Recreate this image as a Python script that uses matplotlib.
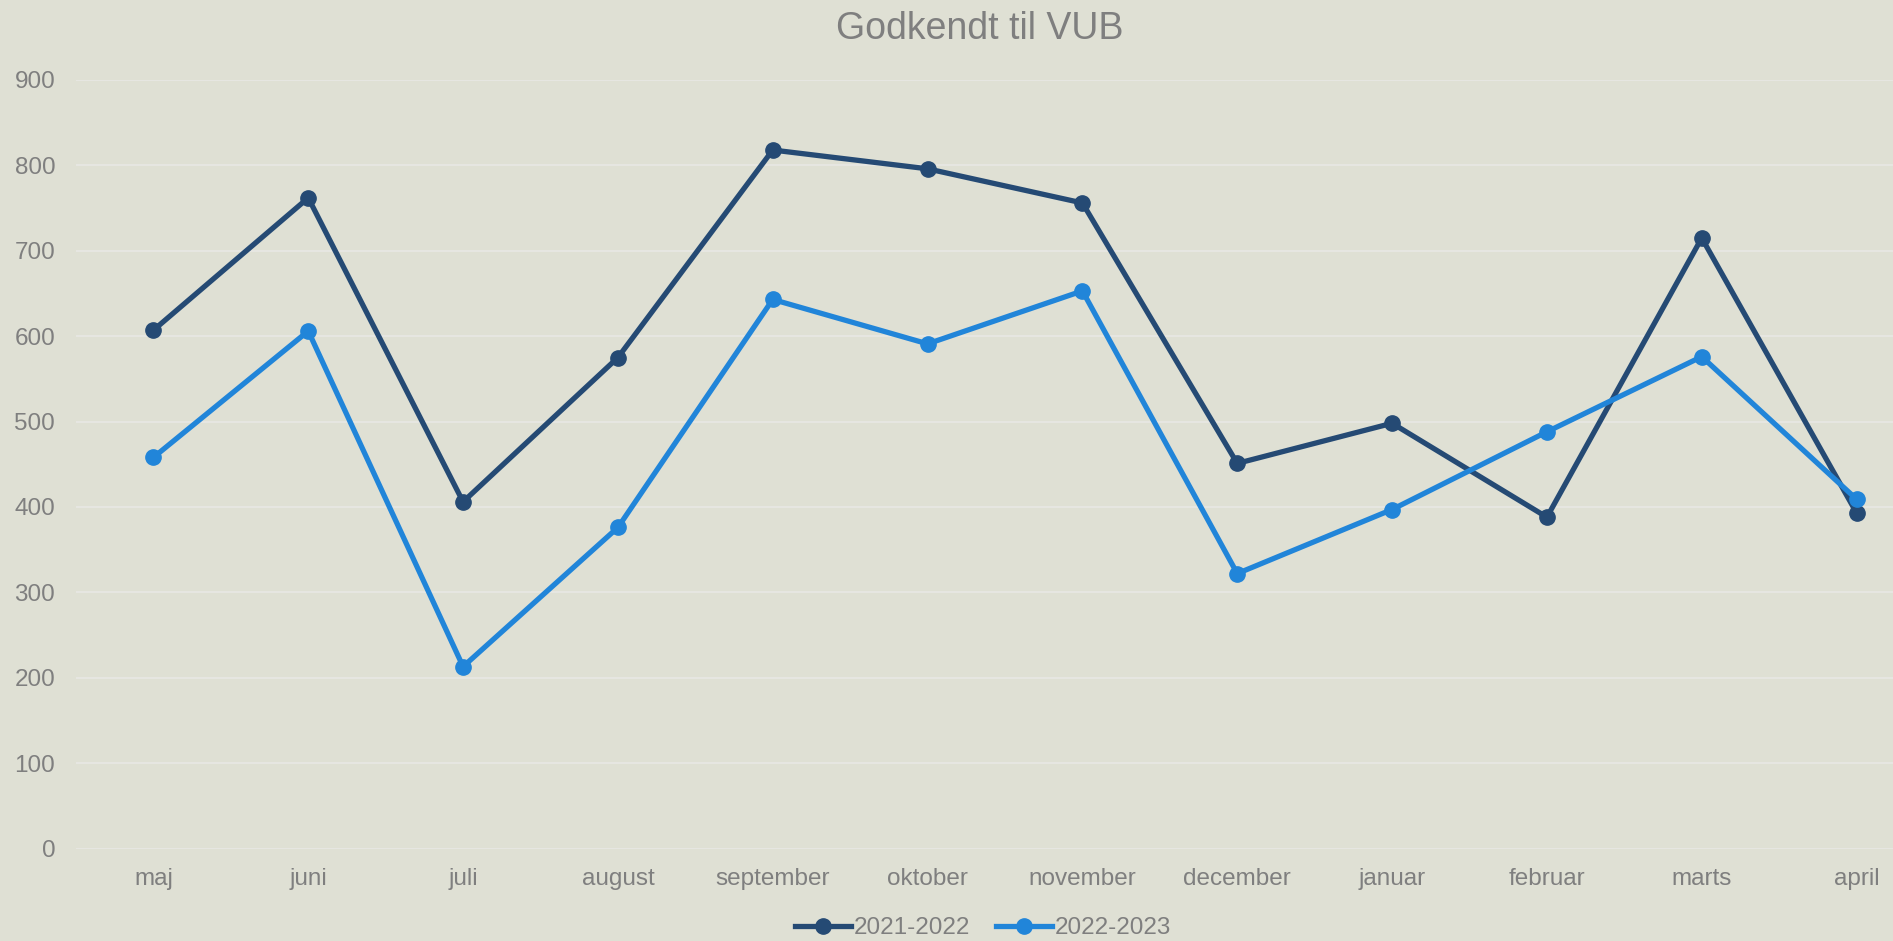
import matplotlib
matplotlib.use("Agg")
import matplotlib.pyplot as plt

months = ["maj", "juni", "juli", "august", "september", "oktober",
          "november", "december", "januar", "februar", "marts", "april"]
y2122 = [607, 762, 406, 575, 818, 796, 756, 451, 498, 388, 715, 393]
y2223 = [458, 606, 213, 376, 643, 591, 653, 322, 397, 488, 576, 409]
yticks = [0, 100, 200, 300, 400, 500, 600, 700, 800, 900]

bg = "#dfe0d4"
txt = "#7f7f7f"
dark = "#254a74"
light = "#2185d9"

plt.rcParams["font.family"] = ["Liberation Sans", "DejaVu Sans"]

W, H = 1893, 941
fig = plt.figure(figsize=(W / 100, H / 100), dpi=100, facecolor=bg)
ax = fig.add_axes([76 / W, (H - 848.5) / H, (1934 - 76) / W, (848.5 - 80) / H])
ax.set_facecolor(bg)

x = list(range(len(months)))
ax.plot(x, y2122, color=dark, lw=3.8, marker="o", ms=11, label="2021-2022", zorder=3)
ax.plot(x, y2223, color=light, lw=3.8, marker="o", ms=11, label="2022-2023", zorder=3)

ax.set_xlim(-0.5, len(months) - 0.5)
ax.set_ylim(0, 900)
ax.set_yticks(yticks)
ax.set_xticks(x)
ax.set_xticklabels(months)
ax.grid(axis="y", color="#e6e6e1", lw=1.5)
ax.set_axisbelow(True)
for s in ax.spines.values():
    s.set_visible(False)
ax.tick_params(axis="both", length=0, colors=txt, labelsize=17.5)
ax.tick_params(axis="y", pad=15)
ax.tick_params(axis="x", pad=14)

fig.text(980 / W, 1 - 29 / H, "Godkendt til VUB", ha="center", va="center",
         fontsize=27, color=txt)

leg = fig.legend(loc="center", bbox_to_anchor=(983 / W, 1 - 928 / H), ncol=2,
                 frameon=False, fontsize=17.5, handlelength=2.3, handletextpad=0.1,
                 columnspacing=1.1, labelcolor=txt)

fig.savefig("out.png", dpi=100, facecolor=bg)
